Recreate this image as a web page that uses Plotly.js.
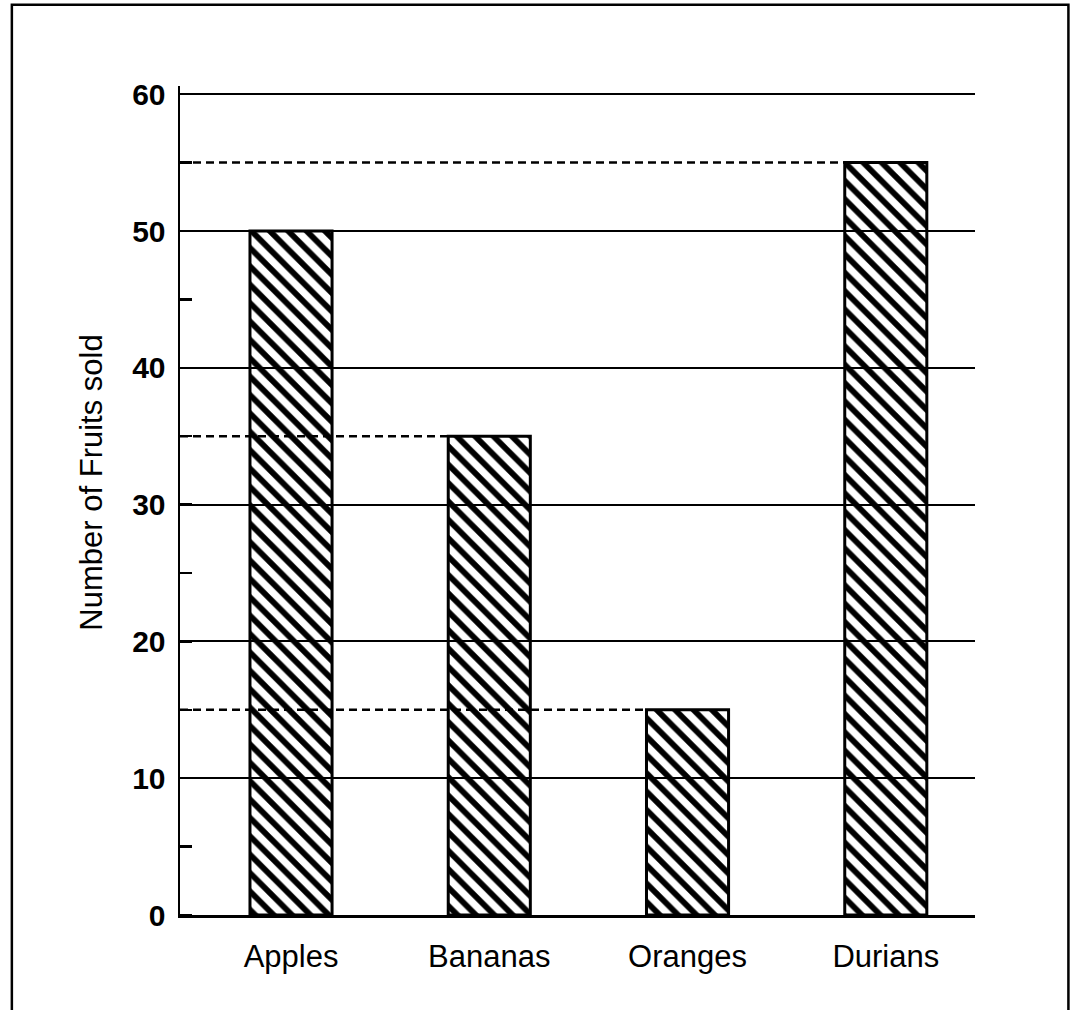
<!DOCTYPE html>
<html>
<head>
<meta charset="utf-8">
<script src="https://cdn.plot.ly/plotly-3.0.1.min.js"></script>
<style>
  html, body { margin: 0; padding: 0; background: #ffffff; }
  #chart { width: 1072px; height: 1010px; }
</style>
</head>
<body>
<div id="chart"></div>
<script>
// ---- data ----
const fruits = ["Apples", "Bananas", "Oranges", "Durians"];
const sold = [50, 35, 15, 55];
const yTicks = [0, 10, 20, 30, 40, 50, 60];
const yTitle = "Number of Fruits sold";
// values marked by dashed guide lines and the bar each one reaches
const guideValues = [55, 35, 15];
const guideTargets = ["Durians", "Bananas", "Oranges"];

const barWidth = 0.414;
const FONT = "Liberation Sans, Arial, sans-serif";

const trace = {
  type: "bar",
  x: fruits.map((f, i) => i),
  y: sold,
  width: barWidth,
  marker: {
    color: "black",
    line: { color: "black", width: 3 },
    pattern: { shape: "\\", size: 13, solidity: 0.45, fgcolor: "black", bgcolor: "rgba(0,0,0,0)" }
  },
  hoverinfo: "x+y",
  showlegend: false
};

const shapes = guideValues.map((v, k) => ({
  type: "line",
  layer: "below",
  xref: "x", yref: "y",
  x0: -0.56,
  x1: fruits.indexOf(guideTargets[k]) - barWidth / 2,
  y0: v, y1: v,
  line: { color: "black", width: 2.5, dash: "8px,5px" }
}));

// outer border box
shapes.push({
  type: "rect", layer: "above",
  xref: "paper", yref: "paper",
  x0: -0.2115, x1: 1.1175, y0: -0.13, y1: 1.098,
  line: { color: "black", width: 2.5 }, fillcolor: "rgba(0,0,0,0)"
});

const layout = {
  width: 1072, height: 1010,
  margin: { l: 180, r: 97, t: 86, b: 95 },
  paper_bgcolor: "#ffffff",
  plot_bgcolor: "#ffffff",
  xaxis: {
    range: [-0.56, 3.45],
    tickmode: "array",
    tickvals: fruits.map((f, i) => i),
    ticktext: fruits,
    ticks: "",
    showgrid: false,
    zeroline: false,
    showline: true, linecolor: "black", linewidth: 2.5,
    tickfont: { family: FONT, size: 31, color: "black" },
    ticklabelstandoff: 12,
    fixedrange: true
  },
  yaxis: {
    range: [0, 60.6],
    tickmode: "array",
    tickvals: yTicks,
    ticktext: yTicks.map(String),
    ticks: "",
    showgrid: true, gridcolor: "black", gridwidth: 2,
    zeroline: false,
    showline: true, linecolor: "black", linewidth: 2.5,
    tickfont: { family: FONT, size: 30, color: "black", weight: "bold" },
    ticklabelstandoff: 6,
    minor: { dtick: 5, tick0: 5, ticks: "inside", ticklen: 12, tickwidth: 2.5, tickcolor: "black", showgrid: false },
    fixedrange: true
  },
  shapes: shapes,
  annotations: [{
    text: yTitle,
    xref: "paper", yref: "paper",
    x: -0.136, y: 0.522,
    textangle: -90,
    showarrow: false,
    font: { family: FONT, size: 31, color: "black" }
  }]
};

Plotly.newPlot("chart", [trace], layout, { displayModeBar: false, staticPlot: true });
</script>
</body>
</html>
